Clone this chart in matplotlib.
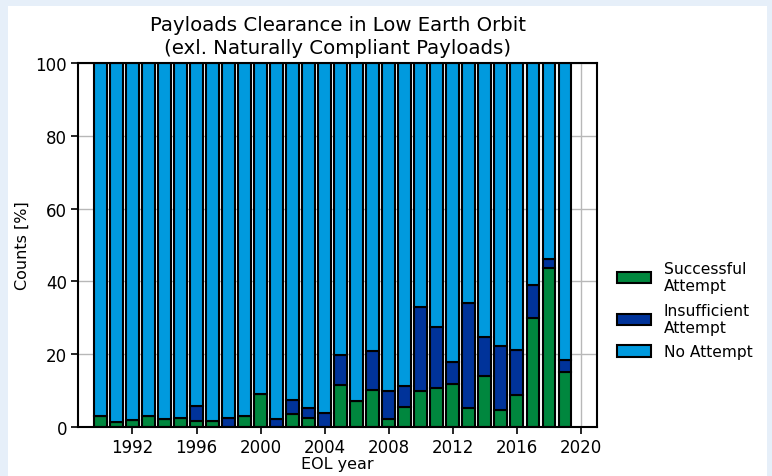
import matplotlib.pyplot as plt
import matplotlib.patches as mpatches
import numpy as np

years = np.arange(1990, 2020)
successful = [2.9, 1.4, 2.0, 3.1, 2.1, 2.4, 1.6, 1.7, 0.0, 2.9,
              9.2, 0.0, 3.7, 2.4, 0.0, 11.6, 7.1, 10.2, 2.1, 5.5,
              9.9, 10.8, 11.8, 5.3, 14.0, 4.6, 8.8, 30.0, 43.7, 15.1]
insufficient = [0.0, 0.0, 0.0, 0.0, 0.0, 0.0, 4.1, 0.0, 2.4, 0.0,
                0.0, 2.3, 3.8, 2.8, 3.9, 8.1, 0.0, 10.6, 7.7, 5.9,
                23.2, 16.8, 6.1, 28.9, 10.7, 17.7, 12.3, 9.0, 2.5, 3.2]
no_attempt = [100 - s - i for s, i in zip(successful, insufficient)]

c_succ = '#00873e'
c_insuf = '#00339a'
c_none = '#009ade'

fig = plt.figure(figsize=(7.72, 4.77), dpi=100)
fig.patch.set_facecolor('#e6eff9')
fig.patches.append(mpatches.Rectangle((8 / 772, 0), 759 / 772, 1 - 7 / 477,
                                      transform=fig.transFigure, facecolor='white',
                                      edgecolor='none', zorder=-10))

ax = fig.add_axes([78 / 772, 1 - 428 / 477, (597 - 78) / 772, (428 - 64) / 477])
ax.set_axisbelow(True)
ax.grid(True, color='#b8b8b8', linewidth=1)

w = 0.8
b1 = ax.bar(years, successful, w, color=c_succ, edgecolor='black', linewidth=1.5)
b2 = ax.bar(years, insufficient, w, bottom=successful, color=c_insuf,
            edgecolor='black', linewidth=1.5)
bottom2 = [s + i for s, i in zip(successful, insufficient)]
b3 = ax.bar(years, no_attempt, w, bottom=bottom2, color=c_none,
            edgecolor='black', linewidth=1.5)

ax.set_xlim(1988.6, 2021.0)
ax.set_ylim(0, 100)
ax.set_xticks(np.arange(1992, 2021, 4))
ax.set_yticks(np.arange(0, 101, 20))
ax.tick_params(labelsize=12, width=1.2, length=5, pad=3)
for s in ax.spines.values():
    s.set_linewidth(1.5)

ax.set_xlabel('EOL year', fontsize=11.5, labelpad=0)
ax.set_ylabel('Counts [%]', fontsize=11.5)
ax.set_title('Payloads Clearance in Low Earth Orbit\n(exl. Naturally Compliant Payloads)',
             fontsize=14.2, linespacing=1.3, pad=7)

fig.legend([b1, b2, b3], ['Successful\nAttempt', 'Insufficient\nAttempt', 'No Attempt'],
           loc='upper left', bbox_to_anchor=(603 / 772, 1 - 248 / 477), frameon=False,
           fontsize=11.2, handlelength=2.2, handleheight=0.75, labelspacing=0.6,
           handletextpad=0.8)

fig.savefig('out.png', dpi=100, facecolor=fig.get_facecolor())
